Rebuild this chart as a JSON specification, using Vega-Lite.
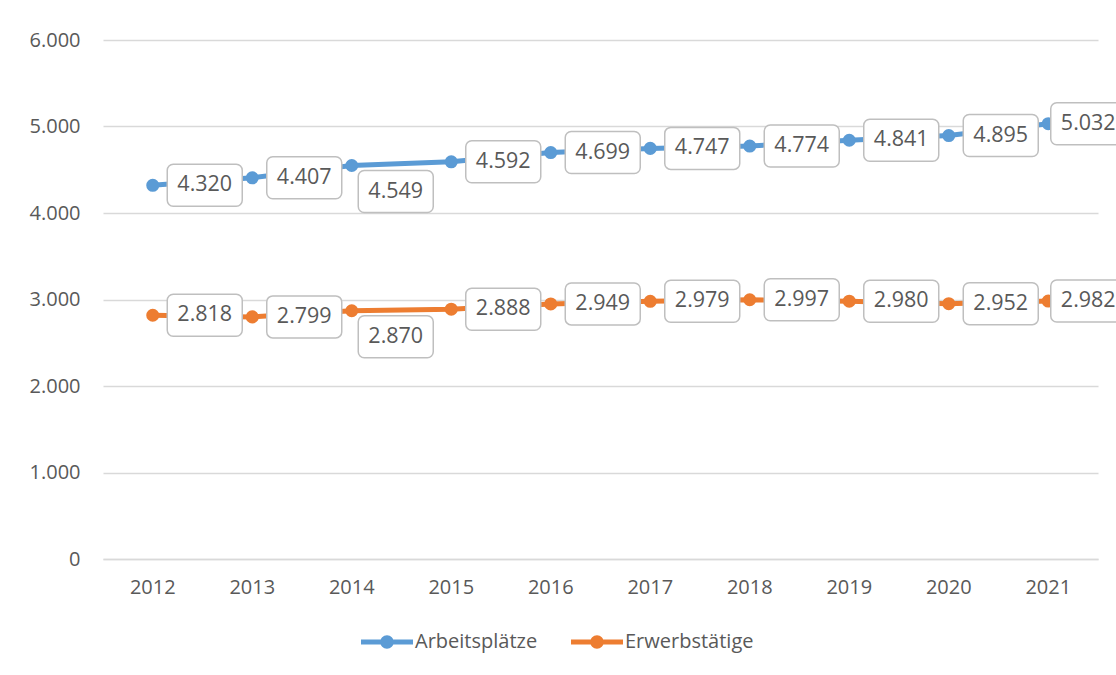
{
  "$schema": "https://vega.github.io/schema/vega-lite/v6.json",
  "width": 995,
  "height": 519,
  "autosize": {"type": "none"},
  "padding": {"left": 103, "top": 40, "right": 18, "bottom": 116},
  "background": "white",
  "config": {
    "locale": {"number": {"decimal": ",", "thousands": ".", "grouping": [3], "currency": ["", " €"]}},
    "font": "Open Sans",
    "view": {"stroke": null},
    "axis": {"labelFont": "Open Sans", "labelFontSize": 20, "labelColor": "#595959", "gridColor": "#D9D9D9", "gridWidth": 1.3, "domain": false, "ticks": false, "title": null}
  },
  "data": {
    "values": [
      {"year": "2012", "series": "Arbeitsplätze", "value": 4320},
      {"year": "2013", "series": "Arbeitsplätze", "value": 4407},
      {"year": "2014", "series": "Arbeitsplätze", "value": 4549},
      {"year": "2015", "series": "Arbeitsplätze", "value": 4592},
      {"year": "2016", "series": "Arbeitsplätze", "value": 4699},
      {"year": "2017", "series": "Arbeitsplätze", "value": 4747},
      {"year": "2018", "series": "Arbeitsplätze", "value": 4774},
      {"year": "2019", "series": "Arbeitsplätze", "value": 4841},
      {"year": "2020", "series": "Arbeitsplätze", "value": 4895},
      {"year": "2021", "series": "Arbeitsplätze", "value": 5032},
      {"year": "2012", "series": "Erwerbstätige", "value": 2818},
      {"year": "2013", "series": "Erwerbstätige", "value": 2799},
      {"year": "2014", "series": "Erwerbstätige", "value": 2870},
      {"year": "2015", "series": "Erwerbstätige", "value": 2888},
      {"year": "2016", "series": "Erwerbstätige", "value": 2949},
      {"year": "2017", "series": "Erwerbstätige", "value": 2979},
      {"year": "2018", "series": "Erwerbstätige", "value": 2997},
      {"year": "2019", "series": "Erwerbstätige", "value": 2980},
      {"year": "2020", "series": "Erwerbstätige", "value": 2952},
      {"year": "2021", "series": "Erwerbstätige", "value": 2982}
    ]
  },
  "encoding": {
    "x": {"field": "year", "type": "ordinal", "scale": {"type": "band", "paddingInner": 0, "paddingOuter": 0},
      "axis": {"labelAngle": 0, "labelPadding": 18, "grid": false, "domain": true, "domainColor": "#D9D9D9", "domainWidth": 1.3}},
    "y": {"field": "value", "type": "quantitative", "scale": {"domain": [0, 6000]},
      "axis": {"values": [0, 1000, 2000, 3000, 4000, 5000, 6000], "format": ",d", "labelPadding": 23}}
  },
  "layer": [
    {
      "mark": {"type": "line", "strokeWidth": 5},
      "encoding": {
        "color": {"field": "series", "type": "nominal",
          "scale": {"domain": ["Arbeitsplätze", "Erwerbstätige"], "range": ["#5B9BD5", "#ED7D31"]},
          "legend": {"title": null, "orient": "none", "direction": "horizontal", "legendX": 258, "legendY": 576,
            "symbolType": "M-1,-0.1 H1 V0.1 H-1 Z M-0.26,0 A0.26,0.26 0 1,1 0.26,0 A0.26,0.26 0 1,1 -0.26,0 Z",
            "symbolSize": 2704, "symbolStrokeWidth": 0, "labelFontSize": 20, "labelColor": "#595959", "labelFont": "Open Sans",
            "labelOffset": 2, "columnPadding": 33, "padding": 0,
            "encode": {"symbols": {"update": {"fill": {"scale": "color", "field": "value"}, "fillOpacity": {"value": 1}}}}}
        }
      }
    },
    {
      "mark": {"type": "circle", "size": 170, "opacity": 1},
      "encoding": {"color": {"field": "series", "type": "nominal", "legend": null}}
    },
    {
      "transform": [{"filter": "datum.year != '2014' && datum.year != '2021'"}],
      "layer": [
        {"mark": {"type": "rect", "width": 75, "height": 42, "xOffset": 52, "fill": "white", "stroke": "#BFBFBF", "strokeWidth": 1.5, "cornerRadius": 6}},
        {"mark": {"type": "text", "dx": 52, "fontSize": 21.5, "color": "#595959", "baseline": "middle", "align": "center"},
          "encoding": {"text": {"field": "value", "type": "quantitative", "format": ",d"}}}
      ]
    },
    {
      "transform": [{"filter": "datum.year == '2014'"}],
      "layer": [
        {"mark": {"type": "rect", "width": 75, "height": 42, "xOffset": 44, "yOffset": 26, "fill": "white", "stroke": "#BFBFBF", "strokeWidth": 1.5, "cornerRadius": 6}},
        {"mark": {"type": "text", "dx": 44, "dy": 26, "fontSize": 21.5, "color": "#595959", "baseline": "middle", "align": "center"},
          "encoding": {"text": {"field": "value", "type": "quantitative", "format": ",d"}}}
      ]
    },
    {
      "transform": [{"filter": "datum.year == '2021'"}],
      "layer": [
        {"mark": {"type": "rect", "width": 75, "height": 42, "xOffset": 40, "fill": "white", "stroke": "#BFBFBF", "strokeWidth": 1.5, "cornerRadius": 6}},
        {"mark": {"type": "text", "dx": 40, "fontSize": 21.5, "color": "#595959", "baseline": "middle", "align": "center"},
          "encoding": {"text": {"field": "value", "type": "quantitative", "format": ",d"}}}
      ]
    }
  ]
}
